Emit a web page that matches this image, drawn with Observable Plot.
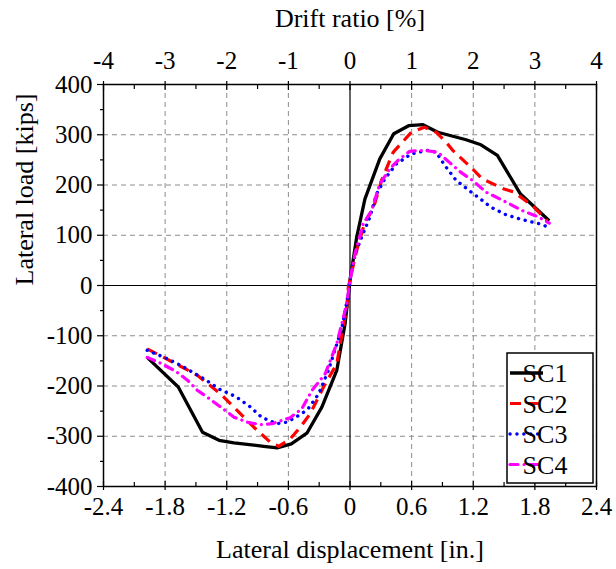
<!DOCTYPE html>
<html><head><meta charset="utf-8">
<script src="https://cdn.jsdelivr.net/npm/d3@7"></script>
<script src="https://cdn.jsdelivr.net/npm/@observablehq/plot@0.6"></script>
<style>
body{margin:0;background:#fff}
svg{display:block}
svg text{font-family:'Liberation Serif','Times New Roman',serif !important;}
</style>
</head><body><div id="chart"></div>
<script>
const series = ["SC1", "SC2", "SC3", "SC4"];
const sc1Disp = [-1.975,-1.672,-1.436,-1.275,-1.13,-0.839,-0.71,-0.571,-0.42,-0.274,-0.129,-0.048,0,0.065,0.145,0.29,0.426,0.571,0.71,0.855,1.13,1.275,1.435,1.66,1.94];
const sc1Load = [-143,-202,-292,-308,-313,-320,-323,-315,-294,-242,-169,-76,10,96,172,252,302,318,320,305,290,280,259,182,129];
const sc2Disp = [-1.975,-1.694,-1.484,-1.258,-1.13,-0.936,-0.775,-0.694,-0.581,-0.484,-0.387,-0.258,-0.129,-0.032,-0.016,0.065,0.145,0.226,0.307,0.42,0.597,0.726,0.839,0.936,1.0,1.178,1.29,1.5,1.597,1.775,1.92];
const sc2Load = [-126,-156,-179,-216,-242,-282,-312,-320,-305,-282,-255,-202,-156,-43,-3,70,126,153,209,265,305,315,305,285,269,235,212,192,186,159,129];
const sc3Disp = [-1.975,-1.775,-1.63,-1.404,-1.275,-1.113,-0.975,-0.855,-0.71,-0.613,-0.468,-0.403,-0.306,-0.21,-0.081,-0.016,0.016,0.065,0.113,0.194,0.258,0.339,0.452,0.597,0.758,0.839,0.93,1.03,1.16,1.29,1.37,1.517,1.678,1.84,1.92];
const sc3Load = [-129,-146,-161,-188,-206,-221,-241,-263,-275,-272,-255,-244,-216,-169,-86,-17,36,70,96,136,182,212,242,262,269,265,237,210,189,169,156,141,131,123,117];
const sc4Disp = [-1.975,-1.84,-1.694,-1.58,-1.484,-1.371,-1.258,-1.13,-1.0,-0.871,-0.758,-0.581,-0.468,-0.371,-0.242,-0.129,-0.032,0,0.048,0.129,0.21,0.29,0.387,0.468,0.581,0.726,0.855,0.968,1.08,1.194,1.323,1.549,1.678,1.84,1.94];
const sc4Load = [-143,-155,-171,-189,-209,-225,-242,-262,-272,-277,-275,-263,-245,-209,-176,-116,-37,10,63,123,149,202,232,249,267,269,265,245,225,209,186,163,149,136,124];

const xMajor = [-2.4,-1.8,-1.2,-0.6,0,0.6,1.2,1.8,2.4];
const xMinor = [-2.1,-1.5,-0.9,-0.3,0.3,0.9,1.5,2.1];
const yMajor = [-400,-300,-200,-100,0,100,200,300,400];
const yMinor = [-350,-250,-150,-50,50,150,250,350];
const driftTicks = [-4,-3,-2,-1,0,1,2,3,4];
const inchesPerPercent = 0.6;

const colors = ["#000000", "#ff0000", "#0000ff", "#ff00ff"];
const dashes = [null, "11,7", "0.1,6.8", "8,6,0.1,6"];
const caps = ["butt", "butt", "round", "round"];
const widths = [3.3, 3.2, 3.4, 3.2];

const dispArrays = [sc1Disp, sc2Disp, sc3Disp, sc4Disp];
const loadArrays = [sc1Load, sc2Load, sc3Load, sc4Load];
const rows = series.map((s, k) => dispArrays[k].map((d, i) => ({series: s, disp: d, load: loadArrays[k][i]})));

const fmtX = d => d === 0 ? "0" : d.toFixed(1);
const gridStyle = {stroke: "#8c8c8c", strokeOpacity: 1, strokeWidth: 1, strokeDasharray: "5,4"};
const tickOnly = (anchor, size) => ({anchor, tickSize: size, fill: "none", label: null, strokeWidth: 1.2});
const textOnly = (anchor, pad, fmt) => ({anchor, tickSize: 0, tickPadding: pad, tickFormat: fmt, label: null});

const plot = Plot.plot({
  width: 616, height: 569,
  marginLeft: 103, marginRight: 20, marginTop: 84, marginBottom: 83,
  style: {fontFamily: "'Liberation Serif', 'Times New Roman', serif", fontSize: "25px", background: "#fff", color: "#000", overflow: "visible"},
  x: {domain: [-2.4, 2.4]},
  y: {domain: [-400, 400]},
  marks: [
    Plot.gridX(xMajor.filter(v => v !== 0 && Math.abs(v) !== 2.4), gridStyle),
    Plot.gridY(yMajor.filter(v => v !== 0 && Math.abs(v) !== 400), gridStyle),
    Plot.ruleX([0], {stroke: "#000", strokeWidth: 1.2}),
    Plot.ruleY([0], {stroke: "#000", strokeWidth: 1.2}),
    ...series.map((s, k) => Plot.line(rows[k], {x: "disp", y: "load", stroke: colors[k], strokeWidth: widths[k], strokeDasharray: dashes[k], strokeLinecap: caps[k], strokeLinejoin: "round"})),
    Plot.frame({stroke: "#000", strokeWidth: 1.5}),
    // bottom axis
    Plot.axisX(xMajor, tickOnly("bottom", 4)),
    Plot.axisX(xMajor, tickOnly("bottom", -5)),
    Plot.axisX(xMinor, tickOnly("bottom", -4)),
    Plot.axisX(xMajor, textOnly("bottom", 11, fmtX)),
    // top axis (drift ratio)
    Plot.axisX(xMajor, tickOnly("top", 4)),
    Plot.axisX(xMajor, tickOnly("top", -5)),
    Plot.axisX(xMinor, tickOnly("top", -4)),
    Plot.axisX(driftTicks.map(d => d * inchesPerPercent), textOnly("top", 16, d => String(Math.round(d / inchesPerPercent)))),
    // left axis
    Plot.axisY(yMajor, tickOnly("left", 6)),
    Plot.axisY(yMinor, tickOnly("left", 3)),
    Plot.axisY(yMajor, textOnly("left", 11, d => String(d))),
    // titles
    Plot.text(["Drift ratio [%]"], {text: d => d, frameAnchor: "top", lineAnchor: "middle", dy: -66, fontSize: 26}),
    Plot.text(["Lateral displacement [in.]"], {text: d => d, frameAnchor: "bottom", lineAnchor: "middle", dy: 63, fontSize: 26}),
    Plot.text(["Lateral load [kips]"], {text: d => d, frameAnchor: "left", dx: -79, rotate: -90, fontSize: 26})
  ]
});

// legend inside the plot frame
const svg = d3.select(plot);
const lg = svg.append("g").attr("class", "legend");
lg.append("rect").attr("x", 507).attr("y", 353).attr("width", 86).attr("height", 130)
  .attr("fill", "#fff").attr("stroke", "#000").attr("stroke-width", 1.5);
series.forEach((s, i) => {
  const y = 373 + i * 30.5;
  lg.append("line").attr("x1", 510).attr("x2", 543).attr("y1", y).attr("y2", y)
    .attr("stroke", colors[i]).attr("stroke-width", widths[i])
    .attr("stroke-dasharray", dashes[i]).attr("stroke-linecap", caps[i]);
  lg.append("text").attr("x", 545).attr("y", y).attr("dy", "0.35em")
    .attr("fill", "#000").style("font-size", "26px").text(s);
});

document.getElementById("chart").appendChild(plot);
</script>
</body></html>
